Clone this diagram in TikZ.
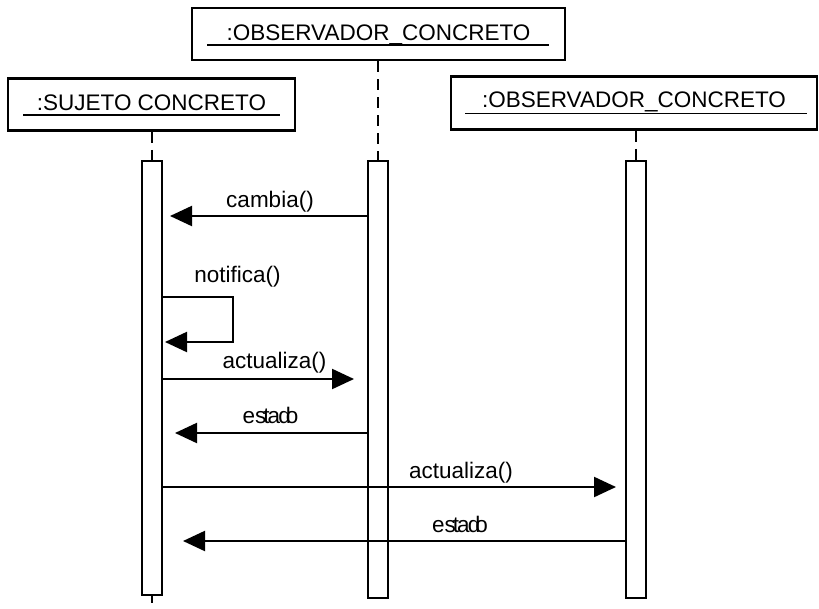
\documentclass[tikz,border=0pt]{standalone}
\usepackage{fontspec}
\setmainfont{Liberation Sans}
\usetikzlibrary{arrows.meta}
\begin{document}
\begin{tikzpicture}[x=1pt,y=-1pt,
  every node/.style={font=\fontsize{22.5}{27}\selectfont},
  obj/.style={draw, line width=2.6pt, inner sep=0pt, text height=16pt, text depth=4pt},
  act/.style={draw, line width=2.6pt, minimum width=20pt, inner sep=0pt, fill=white},
  life/.style={line width=1.4pt, dash pattern=on 11pt off 7pt},
  uline/.style={line width=1.2pt},
  msg/.style={line width=2.2pt, -{Triangle[length=22pt,width=20pt]}},
  lbl/.style={anchor=base, inner sep=0pt}]
\useasboundingbox (0,0) rectangle (819,608);

% object boxes
\node[obj, minimum width=373pt, minimum height=52pt] (o1) at (378.5,34) {:OBSERVADOR\_CONCRETO};
\node[obj, minimum width=287pt, minimum height=52pt] (s) at (151.5,104.5) {:SUJETO CONCRETO};
\node[obj, text depth=8pt, minimum width=366pt, minimum height=53pt] (o2) at (634,103) {:OBSERVADOR\_CONCRETO};

% underlines
\draw[uline] (207,45) -- (549,45);
\draw[uline] (23,115) -- (280,115);
\draw[uline] (465,113.5) -- (807,113.5);

% activation bars
\node[act, minimum height=434pt] (bs) at (152,378) {};
\node[act, minimum height=437pt] (b1) at (378,379.5) {};
\node[act, minimum height=437pt] (b2) at (636,379.5) {};

% lifelines
\draw[life] (s.south -| bs.north) -- (bs.north);
\draw[life] (o1.south -| b1.north) -- (b1.north);
\draw[life] (o2.south -| b2.north) -- (b2.north);
\coordinate (ends) at (152,603);
\draw[line width=1.4pt] (bs.south) -- (ends);

% messages
\coordinate (m1a) at (368,216);  \coordinate (m1b) at (170,216);
\draw[msg] (m1a) -- (m1b);
\node[lbl] (l1) at (270,207) {cambia()};

\coordinate (m2a) at (162,297);  \coordinate (m2b) at (165,342);
\draw[msg] (m2a) -- (233,297) -- (233,342) -- (m2b);
\node[lbl] (l2) at (237.5,282) {notifica()};

\coordinate (m3a) at (162,379);  \coordinate (m3b) at (354,379);
\draw[msg] (m3a) -- (m3b);
\node[lbl] (l3) at (274.5,368) {actualiza()};

\coordinate (m4a) at (368,433);  \coordinate (m4b) at (175,433);
\draw[msg] (m4a) -- (m4b);
\node[lbl] (l4) at (270.5,423) {es\kern-3pt t\kern-2pt a\kern-2pt d\kern-5pt o};

\coordinate (m5a) at (162,487);  \coordinate (m5b) at (616,487);
\draw[msg] (m5a) -- (m5b);
\node[lbl] (l5) at (461,478) {actualiza()};

\coordinate (m6a) at (626,541);  \coordinate (m6b) at (183,541);
\draw[msg] (m6a) -- (m6b);
\node[lbl] (l6) at (460,532) {es\kern-3pt t\kern-2pt a\kern-2pt d\kern-5pt o};
\end{tikzpicture}
\end{document}
